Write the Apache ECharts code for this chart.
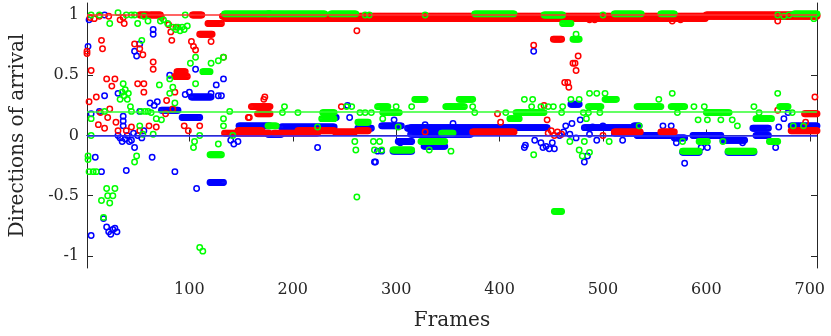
<!DOCTYPE html>
<html>
<head>
<meta charset="utf-8">
<script src="https://cdn.jsdelivr.net/npm/echarts@6/dist/echarts.min.js"></script>
<style>
  html, body { margin: 0; padding: 0; background: #fff; }
  #main { width: 831px; height: 336px; }
</style>
</head>
<body>
<div id="main"></div>
<script>
// axis ticks
var frameTicks = [100, 200, 300, 400, 500, 600, 700];
var doaTicks = [-1, -0.5, 0, 0.5, 1];

// reference levels (horizontal lines)
var redLevel = 1;
var greenLevel = 0.2;
var blueLevel = 0;

// flat streaks: [firstFrame, lastFrame, value]
var redRuns = [
  [132, 707, 0.99], [135, 599, 0.972], [600, 707, 1.0],
  [52, 60, 1.0], [62, 72, 1.0], [103, 112, 1.0],
  [110, 122, 0.84], [118, 131, 0.93],
  [88, 96, 0.53], [86, 98, 0.49],
  [134, 177, 0.02], [147, 170, 0.04], [160, 178, 0.24], [166, 178, 0.18],
  [182, 224, 0.02], [205, 240, 0.04], [241, 260, 0.03], [263, 273, 0.04],
  [374, 414, 0.03], [452, 460, 0.80], [511, 536, 0.03],
  [556, 569, 0.03], [682, 707, 0.04], [695, 707, 0.18]
];
var blueRuns = [
  [93, 110, 0.15], [102, 121, 0.32], [120, 133, -0.39], [73, 89, 0.21],
  [148, 178, 0.08], [176, 189, 0.01], [189, 240, 0.07], [232, 242, 0.15],
  [263, 276, 0.06], [286, 305, 0.08], [297, 315, -0.13], [302, 315, -0.05],
  [311, 334, 0.06], [327, 347, -0.09], [314, 446, 0.065], [314, 372, 0.01],
  [469, 477, 0.26], [482, 532, 0.065], [511, 536, 0.02], [530, 535, 0.08],
  [533, 566, 0.0], [569, 579, -0.02], [577, 593, -0.14], [587, 614, 0.0],
  [616, 637, -0.04], [621, 646, -0.14], [645, 660, 0.06], [648, 660, 0.0],
  [682, 707, 0.08]
];
var greenRuns = [
  [134, 178, 1.01], [176, 231, 1.01], [237, 261, 1.01], [376, 414, 1.01],
  [443, 461, 1.0], [461, 469, 0.93], [511, 537, 1.01], [556, 569, 1.01],
  [685, 707, 1.01],
  [113, 120, 0.53], [120, 131, -0.16], [176, 184, 0.08],
  [228, 240, 0.14], [229, 240, 0.19], [263, 273, 0.11],
  [282, 292, 0.24], [287, 303, 0.19], [297, 315, -0.12], [318, 328, 0.3],
  [324, 347, -0.05], [344, 355, 0.02], [348, 366, 0.24], [361, 374, 0.3],
  [410, 419, 0.14], [416, 443, 0.19], [453, 460, -0.63], [471, 477, 0.8],
  [486, 498, 0.24], [502, 513, 0.3], [533, 556, 0.24], [566, 579, 0.24],
  [577, 593, -0.13], [593, 601, -0.05], [600, 622, 0.19], [621, 646, -0.13],
  [648, 663, 0.14], [661, 669, -0.05], [671, 679, 0.24]
];

// single markers: [frame, value]
var redPts = [
  [1, 0.70], [1, 0.68], [3, 0.28], [4, 0.98], [5, 0.54], [8, 0.97], [10, 0.32],
  [12, 0.09], [13, 0.99], [14, 0.19], [15, 0.79], [16, 0.72], [18, 0.06],
  [20, 0.47], [21, 0.15], [22, 0.99], [23, 0.22], [25, 0.41], [28, 0.47],
  [29, 0.11], [31, 0.04], [33, 0.96], [36, 0.98], [37, 0.93], [39, 0.04],
  [44, 0.07], [47, 0.76], [50, 0.43], [52, 0.72], [52, 0.04], [55, 0.67],
  [56, 0.43], [56, 0.36], [61, 0.08], [65, 0.61], [65, 0.55], [68, 0.07],
  [73, 0.98], [77, 0.18], [78, 0.29], [80, 0.92], [82, 0.86], [83, 0.79],
  [84, 0.22], [86, 0.36], [87, 0.9], [95, 0.08], [99, 0.04], [102, 0.78],
  [104, 0.74], [106, 0.71], [110, 0.08], [121, 0.78], [133, 0.65],
  [157, 0.15], [158, 0.15], [172, 0.3], [173, 0.32], [247, 0.24], [262, 0.87],
  [328, 0.03], [398, 0.18], [401, 0.11], [424, 0.97], [432, 0.97], [433, 0.75],
  [443, 0.25], [446, 0.13], [447, 0.02], [450, 0.04], [453, 0.0], [456, 0.03],
  [460, 0.01], [463, 0.44], [466, 0.44], [467, 0.4], [471, 0.6], [473, 0.6],
  [474, 0.54], [476, 0.66], [487, 0.96], [492, 0.96], [500, 0.0], [567, 0.95],
  [575, 0.96], [669, 0.95], [669, 0.21], [696, 0.11], [705, 0.32]
];
var bluePts = [
  [2, 0.74], [3, 0.96], [5, 0.18], [5, -0.83], [9, -0.18], [13, 0.2], [15, -0.3],
  [17, -0.69], [18, 1.0], [18, 0.33], [20, -0.76], [22, -0.8], [24, -0.82],
  [26, -0.78], [28, -0.77], [30, -0.8], [31, 0.35], [31, 0.0], [33, -0.02],
  [35, -0.05], [36, 0.16], [36, 0.12], [36, 0.08], [38, -0.03], [39, -0.29],
  [40, 0.0], [42, -0.05], [44, -0.04], [46, 0.02], [47, -0.1], [47, 0.7],
  [49, 0.66], [50, 0.0], [52, 0.2], [52, 0.76], [54, -0.02], [56, 0.04],
  [62, 0.27], [64, -0.18], [65, 0.88], [65, 0.84], [66, 0.25], [69, 0.28],
  [81, 0.5], [86, -0.3], [96, 0.34], [100, 0.36], [106, 0.55], [107, -0.44],
  [121, 0.35], [126, 0.42], [128, 0.33], [131, 0.33], [133, 0.47], [140, -0.04],
  [143, -0.07], [147, -0.05], [224, -0.1], [253, 0.25], [255, 0.15], [279, -0.22],
  [280, -0.22], [282, -0.13], [286, -0.13], [298, 0.13], [304, -0.06], [328, 0.09],
  [355, 0.1], [424, -0.1], [425, -0.08], [433, 0.7], [434, -0.04], [440, -0.06],
  [442, -0.1], [445, -0.09], [448, -0.11], [451, -0.06], [453, -0.11], [458, 0.0],
  [462, 0.03], [464, 0.08], [468, 0.01], [470, 0.1], [474, -0.02], [478, 0.13],
  [482, -0.22], [485, -0.17], [487, 0.01], [490, 0.07], [494, -0.04], [500, 0.08],
  [510, 0.06], [519, -0.04], [524, 0.02], [558, 0.08], [566, 0.08], [571, -0.06],
  [579, -0.23], [595, -0.1], [601, -0.1], [635, -0.06], [667, -0.1], [670, 0.07],
  [675, 0.14], [679, 0.19]
];
var greenPts = [
  [2, -0.17], [2, -0.2], [3, -0.3], [5, 1.0], [5, 0.0], [5, 0.14], [7, -0.3],
  [10, -0.3], [13, 1.0], [15, -0.54], [17, -0.68], [18, 0.2], [20, -0.44],
  [21, -0.5], [23, 0.93], [23, -0.56], [26, -0.5], [28, -0.44], [31, 1.02],
  [33, 0.3], [35, 0.36], [36, 0.43], [37, 0.33], [38, 0.38], [39, 1.0], [40, 0.3],
  [41, 0.35], [43, 0.24], [44, 0.2], [44, 1.0], [47, 1.0], [47, -0.22], [49, -0.17],
  [50, 0.93], [52, 0.08], [53, 0.2], [54, 0.79], [55, 0.01], [56, 0.99], [57, 0.2],
  [60, 0.2], [60, 0.95], [63, 0.19], [65, 0.01], [68, 0.14], [71, 0.42], [72, 0.95],
  [73, 0.13], [75, 0.96], [79, 0.93], [81, 0.47], [81, 0.35], [84, 0.4], [84, 0.9],
  [86, 0.27], [87, 0.88], [89, 0.9], [91, 0.87], [93, 0.9], [95, 0.88], [96, 1.0],
  [98, 0.91], [101, 0.6], [104, -0.1], [105, -0.05], [106, 0.65], [106, 0.43],
  [110, 0.0], [110, -0.93], [113, -0.96], [121, 0.6], [128, -0.07], [128, 0.62],
  [133, 0.65], [133, 0.14], [133, 0.08], [139, 0.2], [142, 0.0], [190, 0.19],
  [192, 0.24], [205, 0.19], [224, 0.07], [252, 0.24], [257, 0.24], [260, -0.05],
  [261, -0.12], [262, -0.51], [265, 0.19], [270, 0.19], [270, 1.0], [274, 1.0],
  [276, 0.19], [278, -0.05], [279, -0.12], [284, -0.05], [286, -0.12], [287, 0.14],
  [300, 0.24], [302, 0.07], [315, 0.24], [328, 1.0], [332, -0.12], [352, 0.24],
  [353, -0.13], [374, 0.24], [376, 0.19], [406, 0.19], [424, 0.3], [431, 0.24],
  [432, 0.3], [433, -0.16], [440, 0.24], [447, 0.24], [452, 0.24], [460, 0.19],
  [461, 0.24], [468, -0.05], [469, 0.3], [474, 0.84], [477, 0.3], [477, -0.12],
  [480, -0.17], [481, 0.19], [482, -0.05], [484, 0.14], [486, 0.19], [487, 0.35],
  [487, -0.14], [494, 0.35], [497, 0.19], [500, 1.0], [502, 0.35], [506, -0.05],
  [535, 0.08], [554, 0.3], [567, 0.35], [572, 0.19], [577, -0.05], [588, 0.24],
  [592, 0.13], [598, 0.24], [601, 0.13], [614, 0.13], [616, -0.05], [625, 0.13],
  [630, 0.08], [646, 0.24], [651, 0.19], [666, -0.05], [669, 0.35], [669, 1.0],
  [675, 0.99], [680, 1.0], [683, 0.19], [684, 0.08], [694, 0.08], [704, 0.97]
];

function expand(runs, pts) {
  var out = [];
  runs.forEach(function (r) {
    for (var f = r[0]; f <= r[1]; f++) out.push([f, r[2]]);
  });
  return out.concat(pts);
}

var serif = 'DejaVu Serif';
var axisColor = '#262626';

function ring(name, color, data) {
  return {
    name: name,
    type: 'scatter',
    data: data,
    symbol: 'circle',
    symbolSize: 5.4,
    progressive: 0,
    itemStyle: { color: 'rgba(0,0,0,0)', borderColor: color, borderWidth: 1.5, opacity: 1 },
    emphasis: { disabled: true },
    z: 2
  };
}

var chart = echarts.init(document.getElementById('main'));
var option = {
  animation: false,
  grid: { left: 87, right: 14, top: 3, bottom: 68 },
  xAxis: [
    {
      type: 'value', min: 1, max: 707, position: 'bottom',
      axisLine: { lineStyle: { color: axisColor, width: 1 } },
      axisTick: { inside: true, length: 6, customValues: frameTicks, lineStyle: { color: axisColor } },
      axisLabel: { customValues: frameTicks, fontFamily: serif, fontSize: 16, color: axisColor, margin: 14 },
      splitLine: { show: false },
      name: 'Frames', nameLocation: 'middle', nameGap: 43,
      nameTextStyle: { fontFamily: serif, fontSize: 20, color: axisColor }
    },
    {
      type: 'value', min: 1, max: 707, position: 'top',
      axisLine: { lineStyle: { color: axisColor, width: 1 } },
      axisTick: { inside: true, length: 6, customValues: frameTicks, lineStyle: { color: axisColor } },
      axisLabel: { show: false },
      splitLine: { show: false }
    }
  ],
  yAxis: [
    {
      type: 'value', min: -1.1, max: 1.1, position: 'left',
      axisLine: { show: true, lineStyle: { color: axisColor, width: 1 } },
      axisTick: { show: true, inside: true, length: 6, customValues: doaTicks, lineStyle: { color: axisColor } },
      axisLabel: { customValues: doaTicks, fontFamily: serif, fontSize: 16, color: axisColor, margin: 8 },
      splitLine: { show: false },
      name: 'Directions of arrival', nameLocation: 'middle', nameGap: 59,
      nameTextStyle: { fontFamily: serif, fontSize: 20, color: axisColor }
    },
    {
      type: 'value', min: -1.1, max: 1.1, position: 'right',
      axisLine: { show: true, lineStyle: { color: axisColor, width: 1 } },
      axisTick: { show: true, inside: true, length: 6, customValues: doaTicks, lineStyle: { color: axisColor } },
      axisLabel: { show: false },
      splitLine: { show: false }
    }
  ],
  series: [
    {
      type: 'line', data: [], z: 1, silent: true,
      markLine: {
        silent: true, symbol: ['none', 'none'], label: { show: false },
        data: [
          { yAxis: redLevel, lineStyle: { color: '#ff3030', width: 1.5, type: 'solid' } },
          { yAxis: greenLevel, lineStyle: { color: '#30ff30', width: 1.5, type: 'solid' } },
          { yAxis: blueLevel, lineStyle: { color: '#3030ff', width: 1.5, type: 'solid' } }
        ]
      }
    },
    ring('blue', '#0000ff', expand(blueRuns, bluePts)),
    ring('red', '#ff0000', expand(redRuns, redPts)),
    ring('green', '#00ff00', expand(greenRuns, greenPts))
  ]
};
option && chart.setOption(option);
</script>
</body>
</html>
